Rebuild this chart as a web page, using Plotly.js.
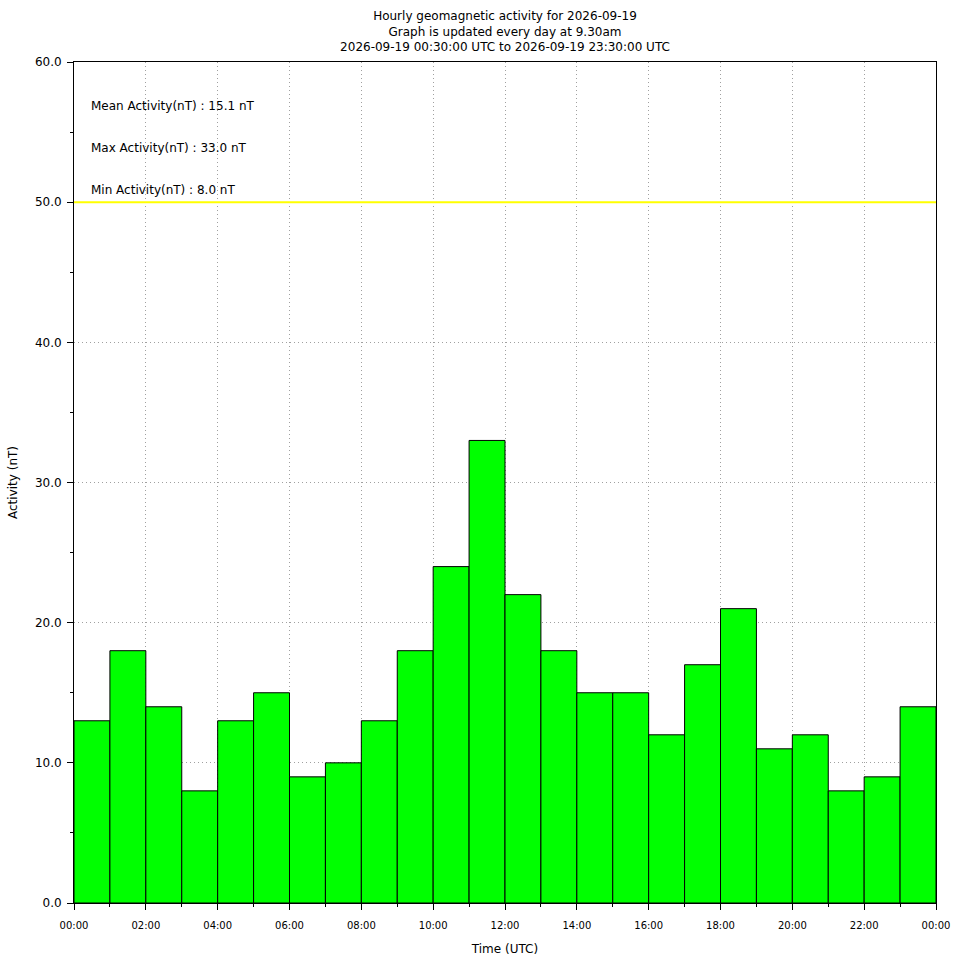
<!DOCTYPE html>
<html>
<head>
<meta charset="utf-8">
<script src="https://cdn.plot.ly/plotly-3.0.1.min.js"></script>
<style>
  body { margin: 0; background: #fff; }
  #myDiv { width: 960px; height: 960px; }
</style>
</head>
<body>
<div id="myDiv"></div>
<script>
// hourly activity values (nT), one per hour 00:00 - 23:00
var hours = [0.5, 1.5, 2.5, 3.5, 4.5, 5.5, 6.5, 7.5, 8.5, 9.5, 10.5, 11.5,
             12.5, 13.5, 14.5, 15.5, 16.5, 17.5, 18.5, 19.5, 20.5, 21.5, 22.5, 23.5];
var activity = [13, 18, 14, 8, 13, 15, 9, 10, 13, 18, 24, 33,
                22, 18, 15, 15, 12, 17, 21, 11, 12, 8, 9, 14];

var tickPos = [0, 2, 4, 6, 8, 10, 12, 14, 16, 18, 20, 22, 24];
var tickLabels = ['00:00', '02:00', '04:00', '06:00', '08:00', '10:00', '12:00',
                  '14:00', '16:00', '18:00', '20:00', '22:00', '00:00'];

var threshold = 50;
var statLabels = ['Mean Activity(nT) : 15.1 nT', 'Max Activity(nT) : 33.0 nT', 'Min Activity(nT) : 8.0 nT'];
var statY = [56.85, 53.85, 50.85];

var fnt = 'DejaVu Sans, sans-serif';

var trace1 = {
    x: hours,
    y: activity,
    type: 'bar',
    width: 1,
    marker: { color: '#00ff00', line: { color: '#000000', width: 1 } },
    hoverinfo: 'x+y'
};

var notes = [];
for (let i = 0; i < statLabels.length; i++) {
    notes.push({
        text: statLabels[i],
        xref: 'paper', yref: 'y',
        x: 0.0175, y: statY[i],
        xanchor: 'left', yanchor: 'middle',
        showarrow: false,
        font: { family: fnt, size: 12, color: '#000' }
    });
}

var layout = {
    width: 960,
    height: 960,
    margin: { l: 74, r: 24, t: 62, b: 57 },
    paper_bgcolor: '#fff',
    plot_bgcolor: '#fff',
    showlegend: false,
    bargap: 0,
    font: { family: fnt, size: 12, color: '#000' },
    title: {
        text: 'Hourly geomagnetic activity for 2026-09-19<br>Graph is updated every day at 9.30am<br>2026-09-19 00:30:00 UTC to 2026-09-19 23:30:00 UTC',
        font: { family: fnt, size: 12, color: '#000' },
        x: 0.5, xref: 'paper', xanchor: 'center',
        y: 0.979, yref: 'container', yanchor: 'top'
    },
    xaxis: {
        range: [0, 24],
        tickvals: tickPos,
        ticktext: tickLabels,
        tickfont: { size: 10 },
        ticks: 'outside', ticklen: 6, tickcolor: '#000',
        ticklabelstandoff: 7,
        minor: { dtick: 1, tick0: 0, ticks: 'outside', ticklen: 3, tickcolor: '#000', showgrid: false },
        showgrid: true, gridcolor: '#a0a0a0', griddash: '1px,3px', gridwidth: 1,
        showline: true, linecolor: '#000', linewidth: 1, mirror: true,
        zeroline: false,
        title: { text: 'Time (UTC)', font: { size: 12 }, standoff: 14 }
    },
    yaxis: {
        range: [0, 60],
        dtick: 10,
        tickformat: '.1f',
        tickfont: { size: 12 },
        ticks: 'outside', ticklen: 6, tickcolor: '#000',
        ticklabelstandoff: 3,
        minor: { dtick: 5, ticks: 'outside', ticklen: 3, tickcolor: '#000', showgrid: false },
        showgrid: true, gridcolor: '#a0a0a0', griddash: '1px,3px', gridwidth: 1,
        showline: true, linecolor: '#000', linewidth: 1, mirror: true,
        zeroline: false,
        title: { text: 'Activity (nT)', font: { size: 12 }, standoff: 14 }
    },
    shapes: [{
        type: 'line', xref: 'paper', yref: 'y',
        x0: 0, x1: 1, y0: threshold, y1: threshold,
        line: { color: '#ffff00', width: 2 }
    }],
    annotations: notes
};

Plotly.newPlot('myDiv', [trace1], layout, { displayModeBar: false, staticPlot: true });
</script>
</body>
</html>
